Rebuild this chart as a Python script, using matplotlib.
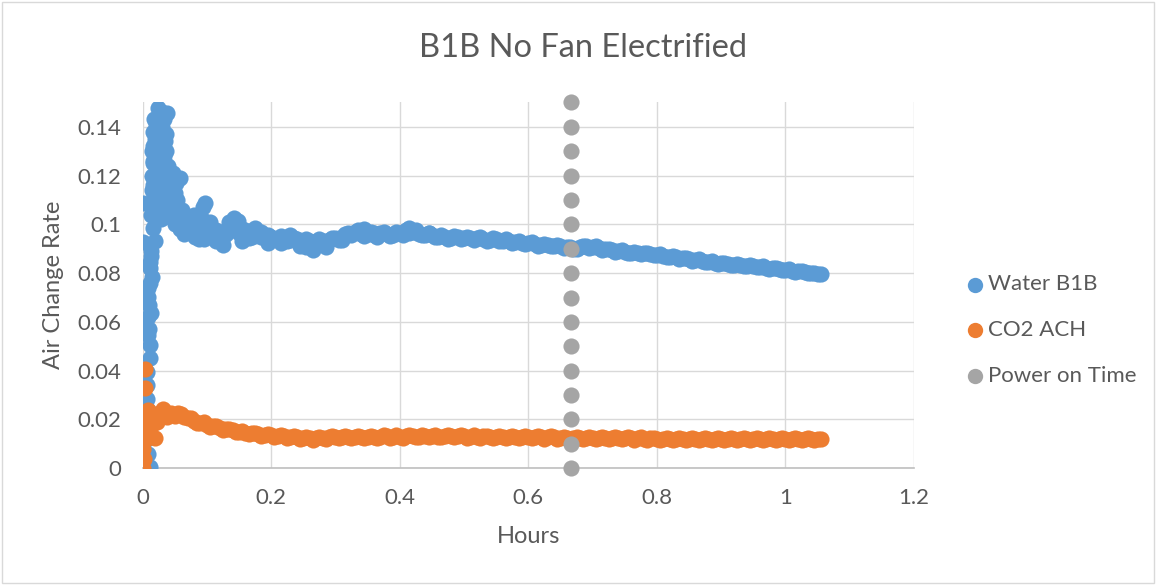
import matplotlib
matplotlib.use("Agg")
import matplotlib.pyplot as plt
from matplotlib.patches import Rectangle

plt.rcParams['font.family'] = ['Lato', 'DejaVu Sans']

# ---------------- data ----------------
# Water B1B : initial rising column + spike
water_x_early = [0.001, 0.012, 0.008, 0.007, 0.008, 0.0065, 0.007, 0.0065, 0.0117, 0.0117,
                 0.009, 0.004, 0.0127, 0.010, 0.009, 0.009, 0.014, 0.012, 0.0117, 0.013,
                 0.019, 0.0168, 0.0012, 0.0012, 0.009, 0.010, 0.008, 0.011, 0.013]
water_y_early = [0.0, 0.0005, 0.006, 0.012, 0.018, 0.0286, 0.034, 0.0396, 0.045, 0.0505,
                 0.0546, 0.0587, 0.0635, 0.067, 0.0703, 0.0738, 0.0785, 0.082, 0.0847, 0.089,
                 0.093, 0.0984, 0.0929, 0.1087, 0.024, 0.057, 0.062, 0.076, 0.087]
water_x_spike = [0.0246, 0.0376, 0.018, 0.031, 0.016, 0.024, 0.036, 0.020, 0.029, 0.015,
                 0.037, 0.023, 0.034, 0.017, 0.026, 0.039, 0.014, 0.022, 0.031, 0.041,
                 0.016, 0.025, 0.035, 0.044, 0.018, 0.028, 0.038, 0.022, 0.032, 0.042,
                 0.051, 0.058, 0.054, 0.046, 0.061, 0.050, 0.066, 0.058, 0.072, 0.064,
                 0.076, 0.081, 0.088, 0.094, 0.097,
                 0.013, 0.015, 0.014, 0.016, 0.017, 0.019, 0.021, 0.026, 0.030, 0.033,
                 0.035, 0.033, 0.029, 0.027, 0.023, 0.020, 0.018, 0.024, 0.028, 0.034,
                 0.038, 0.040, 0.045, 0.048, 0.052, 0.056, 0.060, 0.066, 0.070, 0.074,
                 0.080, 0.084, 0.088, 0.092]
water_y_spike = [0.1477, 0.1456, 0.143, 0.140, 0.138, 0.136, 0.137, 0.133, 0.131, 0.130,
                 0.130, 0.128, 0.126, 0.125, 0.123, 0.124, 0.120, 0.119, 0.121, 0.119,
                 0.116, 0.114, 0.116, 0.115, 0.112, 0.110, 0.112, 0.108, 0.106, 0.108,
                 0.113, 0.119, 0.110, 0.104, 0.106, 0.100, 0.103, 0.098, 0.100, 0.096,
                 0.098, 0.095, 0.097, 0.107, 0.1087,
                 0.104, 0.109, 0.114, 0.126, 0.132, 0.135, 0.141, 0.145, 0.146, 0.143,
                 0.134, 0.128, 0.126, 0.131, 0.122, 0.119, 0.108, 0.104, 0.102, 0.103,
                 0.109, 0.104, 0.111, 0.121, 0.117, 0.104, 0.101, 0.099, 0.097, 0.102,
                 0.104, 0.099, 0.094, 0.102]
water_x_main = [0.10, 0.11, 0.12, 0.13, 0.14, 0.15, 0.16, 0.17, 0.18, 0.19,
                0.20, 0.21, 0.22, 0.23, 0.24, 0.25, 0.26, 0.27, 0.28, 0.29,
                0.30, 0.31, 0.32, 0.33, 0.34, 0.35, 0.36, 0.37, 0.38, 0.39,
                0.40, 0.41, 0.42, 0.43, 0.44, 0.45, 0.46, 0.47, 0.48, 0.49,
                0.50, 0.51, 0.52, 0.53, 0.54, 0.55, 0.56, 0.57, 0.58, 0.59,
                0.60, 0.61, 0.62, 0.63, 0.64, 0.65, 0.66, 0.67, 0.68, 0.69,
                0.70, 0.71, 0.72, 0.73, 0.74, 0.75, 0.76, 0.77, 0.78, 0.79,
                0.80, 0.81, 0.82, 0.83, 0.84, 0.85, 0.86, 0.87, 0.88, 0.89,
                0.90, 0.91, 0.92, 0.93, 0.94, 0.95, 0.96, 0.97, 0.98, 0.99,
                1.00, 1.01, 1.02, 1.03, 1.04, 1.05, 1.056]
water_y_main = [0.0985, 0.0955, 0.0970, 0.0960, 0.0990, 0.0965, 0.0975, 0.0950, 0.0960, 0.0945,
                0.0950, 0.0940, 0.0945, 0.0935, 0.0940, 0.0925, 0.0930, 0.0915, 0.0930, 0.0935,
                0.0945, 0.0950, 0.0965, 0.0970, 0.0960, 0.0962, 0.0958, 0.0963, 0.0960, 0.0958,
                0.0965, 0.0975, 0.0970, 0.0962, 0.0958, 0.0955, 0.0950, 0.0948, 0.0945, 0.0948,
                0.0945, 0.0942, 0.0945, 0.0940, 0.0935, 0.0938, 0.0932, 0.0930, 0.0928, 0.0925,
                0.0922, 0.0918, 0.0916, 0.0915, 0.0912, 0.0910, 0.0905, 0.0900, 0.0908, 0.0910,
                0.0907, 0.0902, 0.0897, 0.0893, 0.0890, 0.0888, 0.0884, 0.0882, 0.0881, 0.0880,
                0.0876, 0.0872, 0.0868, 0.0864, 0.0860, 0.0856, 0.0853, 0.0850, 0.0846, 0.0843,
                0.0840, 0.0838, 0.0835, 0.0833, 0.0830, 0.0828, 0.0825, 0.0822, 0.0819, 0.0816,
                0.0813, 0.0810, 0.0807, 0.0804, 0.0801, 0.0798, 0.0796]
water_x_half = [0.105, 0.115, 0.125, 0.135, 0.145, 0.155, 0.165, 0.175, 0.185, 0.195,
                0.205, 0.215, 0.225, 0.235, 0.245, 0.255, 0.265, 0.275, 0.285, 0.295,
                0.305, 0.315, 0.325, 0.335, 0.345, 0.355, 0.365, 0.375, 0.385, 0.395,
                0.405, 0.415, 0.425, 0.435, 0.445, 0.455, 0.465, 0.475, 0.485, 0.495,
                0.505, 0.515, 0.525, 0.535, 0.545, 0.555, 0.565, 0.575, 0.585, 0.595,
                0.605, 0.615, 0.625, 0.635, 0.645, 0.655, 0.665, 0.675, 0.685, 0.695,
                0.705, 0.715, 0.725, 0.735, 0.745, 0.755, 0.765, 0.775, 0.785, 0.795,
                0.805, 0.815, 0.825, 0.835, 0.845, 0.855, 0.865, 0.875, 0.885, 0.895,
                0.905, 0.915, 0.925, 0.935, 0.945, 0.955, 0.965, 0.975, 0.985, 0.995,
                1.005, 1.015, 1.025, 1.035, 1.045]
water_y_half = [0.0965, 0.0975, 0.0950, 0.0975, 0.0985, 0.0980, 0.0958, 0.0965, 0.0948, 0.0958,
                0.0938, 0.0952, 0.0930, 0.0945, 0.0922, 0.0938, 0.0918, 0.0940, 0.0922, 0.0942,
                0.0935, 0.0962, 0.0955, 0.0978, 0.0952, 0.0970, 0.0950, 0.0968, 0.0952, 0.0968,
                0.0958, 0.0965, 0.0978, 0.0955, 0.0965, 0.0948, 0.0958, 0.0940, 0.0952, 0.0940,
                0.0950, 0.0937, 0.0948, 0.0933, 0.0942, 0.0930, 0.0938, 0.0924, 0.0932, 0.0920,
                0.0926, 0.0912, 0.0920, 0.0910, 0.0916, 0.0904, 0.0908, 0.0898, 0.0912, 0.0904,
                0.0910, 0.0896, 0.0900, 0.0887, 0.0893, 0.0882, 0.0888, 0.0878, 0.0884, 0.0874,
                0.0878, 0.0866, 0.0870, 0.0858, 0.0862, 0.0851, 0.0856, 0.0845, 0.0849, 0.0838,
                0.0843, 0.0833, 0.0838, 0.0828, 0.0833, 0.0823, 0.0828, 0.0818, 0.0822, 0.0812,
                0.0815, 0.0805, 0.0809, 0.0799, 0.0802]
water_x_noise = [0.085, 0.09, 0.095, 0.105, 0.115, 0.125, 0.135, 0.142, 0.148, 0.155,
                 0.165, 0.175, 0.185, 0.195, 0.215, 0.23, 0.245, 0.255, 0.265, 0.275,
                 0.285, 0.31, 0.345, 0.36, 0.415, 0.445]
water_y_noise = [0.1000, 0.0970, 0.0940, 0.1010, 0.0930, 0.0915, 0.1010, 0.1025, 0.1015, 0.0930,
                 0.0945, 0.0985, 0.0970, 0.0925, 0.0925, 0.0955, 0.0910, 0.0905, 0.0895, 0.0935,
                 0.0905, 0.0935, 0.0980, 0.0965, 0.0985, 0.0965]

# CO2 ACH
co2_x_early = [0.0, 0.001, 0.002, 0.004, 0.004, 0.004, 0.0065, 0.0117, 0.008, 0.014,
               0.019, 0.016, 0.022, 0.026, 0.032, 0.038, 0.044, 0.006, 0.010]
co2_y_early = [0.0, 0.0081, 0.004, 0.0409, 0.033, 0.0218, 0.018, 0.0163, 0.024, 0.020,
               0.0123, 0.022, 0.019, 0.0225, 0.0245, 0.021, 0.0225, 0.012, 0.0225]
co2_x_main = [0.05, 0.06, 0.07, 0.08, 0.09, 0.10, 0.11, 0.12, 0.13, 0.14,
              0.15, 0.16, 0.17, 0.18, 0.19, 0.20, 0.21, 0.22, 0.23, 0.24,
              0.25, 0.26, 0.27, 0.28, 0.29, 0.30, 0.31, 0.32, 0.33, 0.34,
              0.35, 0.36, 0.37, 0.38, 0.39, 0.40, 0.41, 0.42, 0.43, 0.44,
              0.45, 0.46, 0.47, 0.48, 0.49, 0.50, 0.51, 0.52, 0.53, 0.54,
              0.55, 0.56, 0.57, 0.58, 0.59, 0.60, 0.61, 0.62, 0.63, 0.64,
              0.65, 0.66, 0.67, 0.68, 0.69, 0.70, 0.71, 0.72, 0.73, 0.74,
              0.75, 0.76, 0.77, 0.78, 0.79, 0.80, 0.81, 0.82, 0.83, 0.84,
              0.85, 0.86, 0.87, 0.88, 0.89, 0.90, 0.91, 0.92, 0.93, 0.94,
              0.95, 0.96, 0.97, 0.98, 0.99, 1.00, 1.01, 1.02, 1.03, 1.04,
              1.05, 1.056]
co2_y_main = [0.0215, 0.0222, 0.0205, 0.0195, 0.0185, 0.0178, 0.0172, 0.0165, 0.0160, 0.0155,
              0.0150, 0.0146, 0.0143, 0.0140, 0.0138, 0.0136, 0.0134, 0.0132, 0.0130, 0.0128,
              0.0126, 0.0123, 0.0125, 0.0126, 0.0127, 0.0128, 0.0127, 0.0129, 0.0128, 0.0130,
              0.0129, 0.0129, 0.0130, 0.0131, 0.0129, 0.0130, 0.0131, 0.0132, 0.0130, 0.0131,
              0.0132, 0.0130, 0.0131, 0.0131, 0.0132, 0.0131, 0.0130, 0.0130, 0.0131, 0.0129,
              0.0129, 0.0130, 0.0129, 0.0128, 0.0129, 0.0128, 0.0127, 0.0127, 0.0128, 0.0127,
              0.0126, 0.0126, 0.0125, 0.0125, 0.0124, 0.0124, 0.0124, 0.0124, 0.0123, 0.0123,
              0.0123, 0.0123, 0.0123, 0.0122, 0.0123, 0.0122, 0.0122, 0.0122, 0.0122, 0.0122,
              0.0121, 0.0122, 0.0121, 0.0121, 0.0121, 0.0121, 0.0121, 0.0121, 0.0120, 0.0121,
              0.0120, 0.0120, 0.0120, 0.0120, 0.0120, 0.0120, 0.0120, 0.0119, 0.0119, 0.0119,
              0.0119, 0.0119]
co2_x_half = [0.055, 0.065, 0.075, 0.085, 0.095, 0.105, 0.115, 0.125, 0.135, 0.145,
              0.155, 0.165, 0.175, 0.185, 0.195, 0.205, 0.215, 0.225, 0.235, 0.245,
              0.255, 0.265, 0.275, 0.285, 0.295, 0.305, 0.315, 0.325, 0.335, 0.345,
              0.355, 0.365, 0.375, 0.385, 0.395, 0.405, 0.415, 0.425, 0.435, 0.445,
              0.455, 0.465, 0.475, 0.485, 0.495, 0.505, 0.515, 0.525, 0.535, 0.545,
              0.555, 0.565, 0.575, 0.585, 0.595, 0.605, 0.615, 0.625, 0.635, 0.645,
              0.655, 0.665, 0.675, 0.685, 0.695, 0.705, 0.715, 0.725, 0.735, 0.745,
              0.755, 0.765, 0.775, 0.785, 0.795, 0.805, 0.815, 0.825, 0.835, 0.845,
              0.855, 0.865, 0.875, 0.885, 0.895, 0.905, 0.915, 0.925, 0.935, 0.945,
              0.955, 0.965, 0.975, 0.985, 0.995, 1.005, 1.015, 1.025, 1.035, 1.045]
co2_y_half = [0.0228, 0.0212, 0.0205, 0.0186, 0.0188, 0.0170, 0.0174, 0.0158, 0.0162, 0.0148,
              0.0152, 0.0140, 0.0146, 0.0134, 0.0140, 0.0130, 0.0136, 0.0126, 0.0132, 0.0122,
              0.0128, 0.0118, 0.0129, 0.0121, 0.0132, 0.0123, 0.0133, 0.0124, 0.0134, 0.0125,
              0.0134, 0.0125, 0.0135, 0.0126, 0.0135, 0.0126, 0.0136, 0.0127, 0.0136, 0.0127,
              0.0136, 0.0127, 0.0136, 0.0127, 0.0136, 0.0126, 0.0135, 0.0126, 0.0134, 0.0124,
              0.0134, 0.0124, 0.0133, 0.0124, 0.0132, 0.0123, 0.0131, 0.0122, 0.0131, 0.0122,
              0.0130, 0.0121, 0.0129, 0.0120, 0.0128, 0.0120, 0.0128, 0.0119, 0.0127, 0.0119,
              0.0127, 0.0118, 0.0127, 0.0118, 0.0126, 0.0118, 0.0126, 0.0118, 0.0126, 0.0117,
              0.0125, 0.0117, 0.0125, 0.0117, 0.0125, 0.0117, 0.0125, 0.0116, 0.0124, 0.0116,
              0.0124, 0.0116, 0.0124, 0.0116, 0.0124, 0.0116, 0.0123, 0.0116, 0.0123, 0.0116]

# Power on Time
power_x = [0.667] * 16
power_y = [0.00, 0.01, 0.02, 0.03, 0.04, 0.05, 0.06, 0.07, 0.08, 0.09,
           0.10, 0.11, 0.12, 0.13, 0.14, 0.15]

x_ticks = [0, 0.2, 0.4, 0.6, 0.8, 1.0, 1.2]
x_tick_labels = ["0", "0.2", "0.4", "0.6", "0.8", "1", "1.2"]
y_ticks = [0, 0.02, 0.04, 0.06, 0.08, 0.10, 0.12, 0.14]
y_tick_labels = ["0", "0.02", "0.04", "0.06", "0.08", "0.1", "0.12", "0.14"]

# ---------------- drawing ----------------
BLUE = "#5B9BD5"
ORANGE = "#ED7D31"
GRAY = "#A5A5A5"
TXT = "#595959"
MS = 135

fig = plt.figure(figsize=(11.56, 5.85), dpi=100)
ax = fig.add_axes([0.1233, 0.1995, 0.6674, 0.6256])

wx = water_x_early + water_x_spike + water_x_noise + water_x_main + water_x_half
wy = water_y_early + water_y_spike + water_y_noise + water_y_main + water_y_half
ax.scatter(wx, wy, s=MS, color=BLUE, linewidths=0, zorder=3, label="Water B1B")
ax.scatter(co2_x_early + co2_x_main + co2_x_half, co2_y_early + co2_y_main + co2_y_half,
           s=MS, color=ORANGE, linewidths=0, zorder=4, label="CO2 ACH")
ax.scatter(power_x, power_y, s=MS, color=GRAY, linewidths=0, zorder=5,
           label="Power on Time", clip_on=False)

ax.set_xlim(0, 1.2)
ax.set_ylim(0, 0.15)
ax.set_xticks(x_ticks)
ax.set_xticklabels(x_tick_labels)
ax.set_yticks(y_ticks)
ax.set_yticklabels(y_tick_labels)
ax.grid(True, color="#D9D9D9", linewidth=1.0, zorder=0)
ax.set_axisbelow(True)
for side in ["top", "right", "left"]:
    ax.spines[side].set_visible(False)
ax.spines["bottom"].set_color("#BFBFBF")
ax.spines["bottom"].set_linewidth(1.2)
ax.tick_params(axis="both", length=0, labelsize=16, labelcolor=TXT)
ax.tick_params(axis="y", pad=15)
ax.tick_params(axis="x", pad=14)

ax.set_xlabel("Hours", fontsize=17, color=TXT, labelpad=13)
ax.set_ylabel("Air Change Rate", fontsize=17, color=TXT, labelpad=10)
fig.text(0.5045, 0.918, "B1B No Fan Electrified", ha="center", va="center",
         fontsize=23.5, color=TXT)

leg = ax.legend(loc="center left", bbox_to_anchor=(1.05, 0.378), frameon=False,
                fontsize=16, labelspacing=1.15, handletextpad=0.0, handlelength=1.2,
                borderaxespad=0, markerscale=0.95)
for t in leg.get_texts():
    t.set_color(TXT)

fig.patches.append(Rectangle((0.002, 0.003), 0.996, 0.994, transform=fig.transFigure,
                             fill=False, edgecolor="#D9D9D9", linewidth=1))

fig.savefig("out.png", dpi=100)
